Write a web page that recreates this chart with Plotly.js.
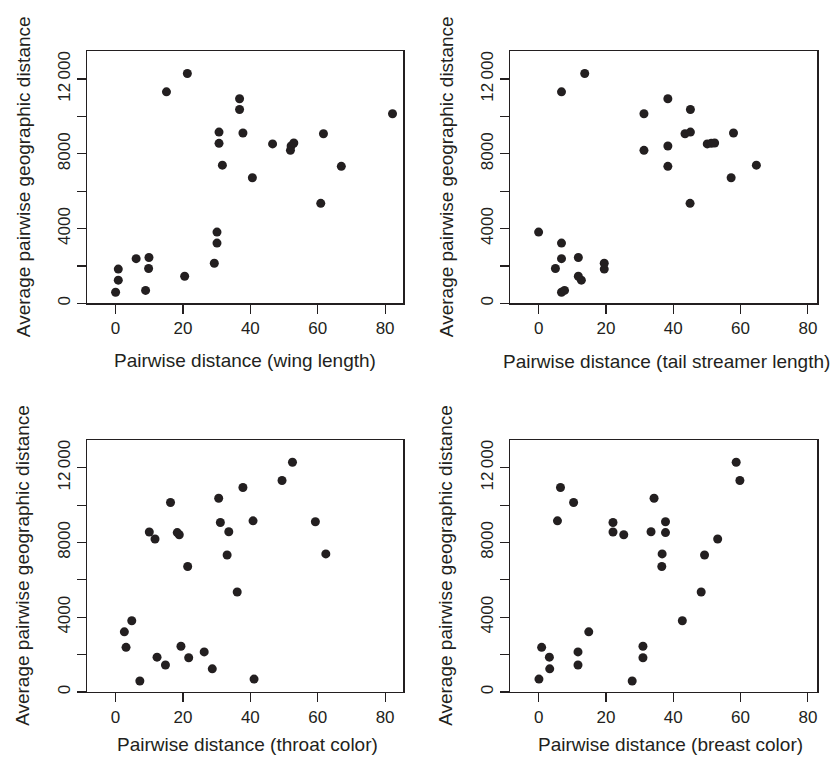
<!DOCTYPE html>
<html>
<head>
<meta charset="utf-8">
<script src="https://cdn.plot.ly/plotly-3.0.1.min.js"></script>
<style>html,body{margin:0;padding:0;background:#fff;}#chart{width:834px;height:757px;}</style>
</head>
<body>
<div id="chart"></div>
<script>
// Average pairwise geographic distance (shared across the four panels)
const geoDistance = [590, 690, 1240, 1445, 1830, 1865, 2145, 2390, 2450, 3220, 3810, 5350, 6715, 7330, 7390, 8185, 8415, 8530, 8560, 8575, 9070, 9110, 9160, 10140, 10370, 10945, 11315, 12295];
// Pairwise trait distances, same order as geoDistance
const wingLength = [0, 8.9, 0.8, 20.5, 0.8, 9.8, 29.3, 6.1, 9.9, 30.1, 30.1, 60.9, 40.6, 67.0, 31.7, 51.9, 52.1, 46.6, 30.7, 52.9, 61.7, 37.8, 30.7, 82.2, 36.8, 36.8, 15.1, 21.3];
const tailStreamer = [6.8, 7.7, 12.7, 11.8, 19.5, 5.0, 19.5, 6.8, 11.8, 6.8, 0, 45.0, 57.2, 38.4, 64.7, 31.3, 38.4, 50.1, 51.3, 52.3, 43.5, 57.9, 45.1, 31.3, 45.1, 38.4, 6.8, 13.7];
const throatColor = [7.2, 41.1, 28.7, 14.8, 21.7, 12.3, 26.3, 3.1, 19.4, 2.6, 4.8, 36.1, 21.4, 33.1, 62.4, 11.7, 18.9, 18.3, 10.0, 33.6, 31.1, 59.3, 40.8, 16.3, 30.6, 37.8, 49.4, 52.5];
const breastColor = [27.8, 0.1, 3.3, 11.7, 31.0, 3.2, 11.7, 0.9, 31.0, 14.9, 42.7, 48.3, 36.6, 49.3, 36.7, 53.2, 25.3, 37.7, 22.1, 33.4, 22.1, 37.7, 5.6, 10.4, 34.3, 6.5, 59.8, 58.7];

const xTitles = ["Pairwise distance (wing length)", "Pairwise distance (tail streamer length)", "Pairwise distance (throat color)", "Pairwise distance (breast color)"];
const yTitle = "Average pairwise geographic distance";
const xTickVals = [0, 20, 40, 60, 80];
const yTickVals = [0, 2000, 4000, 6000, 8000, 10000, 12000];
const yTickText = ["0", "", "4000", "", "8000", "", "12\u2009000"];

const W = 834, H = 757;
const ink = "#231f20";
const font = "Liberation Sans, Arial, Helvetica, sans-serif";

// panel boxes in pixels: [left, right, top, bottom]
const boxes = [
  [87.3, 403.3, 51, 303.3],
  [510, 817.3, 51, 303.3],
  [87.3, 403.3, 439.7, 692],
  [510, 817.3, 439.7, 692]
];
const xRanges = [[-8.4, 85.4], [-8.5, 82.8], [-8.4, 85.4], [-8.5, 82.8]];
const xSeries = [wingLength, tailStreamer, throatColor, breastColor];
const xTitleCenters = [[245, 360], [666, 361], [247, 744], [670, 744]];
const yTitleX = [23, 446, 23, 446];

const traces = [];
const layout = {
  width: W, height: H,
  margin: {l: 0, r: 0, t: 0, b: 0},
  paper_bgcolor: "#fff", plot_bgcolor: "#fff",
  showlegend: false,
  font: {family: font, color: ink, size: 17},
  annotations: []
};

for (let i = 0; i < 4; i++) {
  const [l, r, t, b] = boxes[i];
  const sfx = i === 0 ? "" : String(i + 1);
  traces.push({
    type: "scatter", mode: "markers",
    x: xSeries[i], y: geoDistance,
    xaxis: "x" + sfx, yaxis: "y" + sfx,
    marker: {color: ink, size: 9, line: {width: 0}},
    hoverinfo: "x+y"
  });
  layout["xaxis" + sfx] = {
    domain: [l / W, r / W], anchor: "y" + sfx,
    range: xRanges[i], tickvals: xTickVals, ticktext: xTickVals.map(String),
    showgrid: false, zeroline: false,
    showline: true, mirror: true, linecolor: ink, linewidth: 1.2,
    ticks: "outside", ticklen: 9, tickwidth: 1.2, tickcolor: ink,
    tickfont: {family: font, size: 17, color: ink}
  };
  layout["yaxis" + sfx] = {
    domain: [1 - b / H, 1 - t / H], anchor: "x" + sfx,
    range: [0, 13500], tickvals: yTickVals, ticktext: yTickText,
    tickangle: -90,
    showgrid: false, zeroline: false,
    showline: true, mirror: true, linecolor: ink, linewidth: 1.2,
    ticks: "outside", ticklen: 9, tickwidth: 1.2, tickcolor: ink,
    tickfont: {family: font, size: 17, color: ink}
  };
  layout.annotations.push({
    xref: "paper", yref: "paper",
    x: xTitleCenters[i][0] / W, y: 1 - xTitleCenters[i][1] / H,
    xanchor: "center", yanchor: "middle", showarrow: false,
    text: xTitles[i], font: {family: font, size: 19, color: ink}
  });
  layout.annotations.push({
    xref: "paper", yref: "paper",
    x: yTitleX[i] / W, y: 1 - ((t + b) / 2) / H,
    xanchor: "center", yanchor: "middle", showarrow: false, textangle: -90,
    text: yTitle, font: {family: font, size: 19, color: ink}
  });
}

Plotly.newPlot("chart", traces, layout, {displayModeBar: false, staticPlot: true});
</script>
</body>
</html>
